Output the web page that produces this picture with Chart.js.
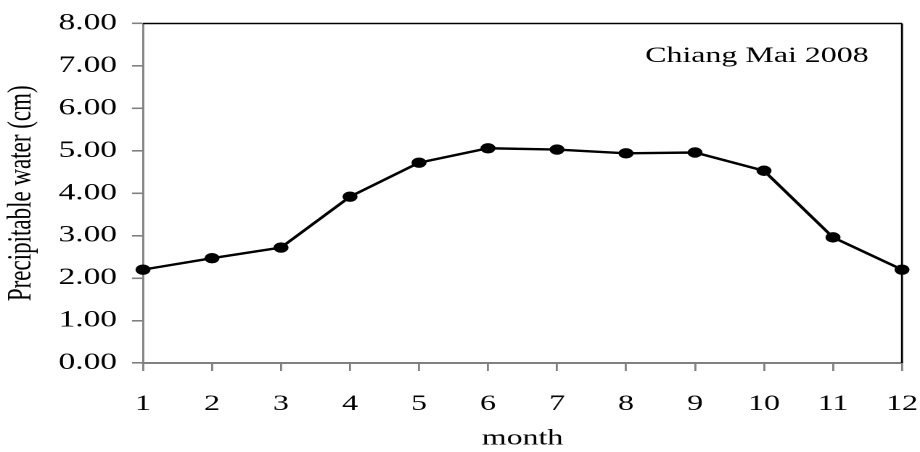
<!DOCTYPE html>
<html>
<head>
<meta charset="utf-8">
<script src="https://cdn.jsdelivr.net/npm/chart.js@4/dist/chart.umd.min.js"></script>
<style>
  html, body { margin: 0; padding: 0; background: #fff; overflow: hidden; }
  /* The original figure is stretched horizontally; draw narrow, then widen. */
  #wrap { width: 634px; height: 452px; transform: scaleX(1.4511); transform-origin: 0 0; }
</style>
</head>
<body>
<div id="wrap"><canvas id="c" width="634" height="452"></canvas></div>
<script>
// Monthly precipitable water, Chiang Mai 2008
const months = ['1', '2', '3', '4', '5', '6', '7', '8', '9', '10', '11', '12'];
const water = [2.20, 2.47, 2.72, 3.92, 4.72, 5.06, 5.03, 4.94, 4.96, 4.53, 2.96, 2.20];
const yTicks = [0, 1, 2, 3, 4, 5, 6, 7, 8];

const SERIF = '"Liberation Serif", "Times New Roman", serif';
const AXIS_GREY = '#808080';

// Top/right frame lines plus the station label inside the plot.
const framePlugin = {
  id: 'frame',
  afterDraw(chart) {
    const { ctx, chartArea: a } = chart;
    ctx.save();
    ctx.strokeStyle = '#000';
    ctx.lineWidth = 1.5;
    ctx.beginPath();
    ctx.moveTo(a.left, a.top);
    ctx.lineTo(a.right, a.top);
    ctx.stroke();
    ctx.lineWidth = 1.4;
    ctx.beginPath();
    ctx.moveTo(a.right, a.top);
    ctx.lineTo(a.right, a.bottom);
    ctx.stroke();
    ctx.fillStyle = '#000';
    ctx.font = '22px ' + SERIF;
    ctx.textAlign = 'right';
    ctx.textBaseline = 'alphabetic';
    ctx.fillText('Chiang Mai 2008', a.right - 23, 62);
    ctx.restore();
  },
};

new Chart(document.getElementById('c'), {
  type: 'line',
  data: {
    labels: months,
    datasets: [{
      data: water,
      borderColor: '#000',
      backgroundColor: '#000',
      borderWidth: 2.4,
      pointRadius: 4,
      pointHoverRadius: 4,
      tension: 0,
    }],
  },
  options: {
    responsive: false,
    animation: false,
    devicePixelRatio: 2,
    layout: { padding: { top: 23.5, right: 12.4, left: 1.4, bottom: 0 } },
    plugins: { legend: { display: false }, tooltip: { enabled: false } },
    scales: {
      x: {
        offset: false,
        grid: { drawOnChartArea: false, drawTicks: true, tickLength: 8, color: AXIS_GREY, lineWidth: 1.4 },
        border: { color: AXIS_GREY, width: 2 },
        ticks: { color: '#000', padding: 20, maxRotation: 0, font: { family: SERIF, size: 22 } },
        title: { display: true, text: 'month', color: '#000', padding: { top: 5, bottom: 0 }, font: { family: SERIF, size: 22 } },
        afterFit(scale) {
          scale.height = 452 - 363;
          // label overhang is already covered by the layout padding
          scale.paddingLeft = 0;
          scale.paddingRight = 0;
        },
      },
      y: {
        min: 0,
        max: 8,
        afterBuildTicks(scale) { scale.ticks = yTicks.map((v) => ({ value: v })); },
        grid: { drawOnChartArea: false, drawTicks: true, tickLength: 7.6, color: AXIS_GREY, lineWidth: 1.6 },
        border: { color: AXIS_GREY, width: 1.4 },
        ticks: { color: '#000', padding: 10.3, font: { family: SERIF, size: 23 }, callback: (v) => v.toFixed(2) },
        title: { display: true, text: 'Precipitable water (cm)', color: '#000', padding: { top: 0, bottom: 0 }, font: { family: SERIF, size: 23 } },
        afterFit(scale) {
          scale.width = 98.55 - 1.4;
          scale.paddingTop = 0;
          scale.paddingBottom = 0;
        },
      },
    },
  },
  plugins: [framePlugin],
});
</script>
</body>
</html>
